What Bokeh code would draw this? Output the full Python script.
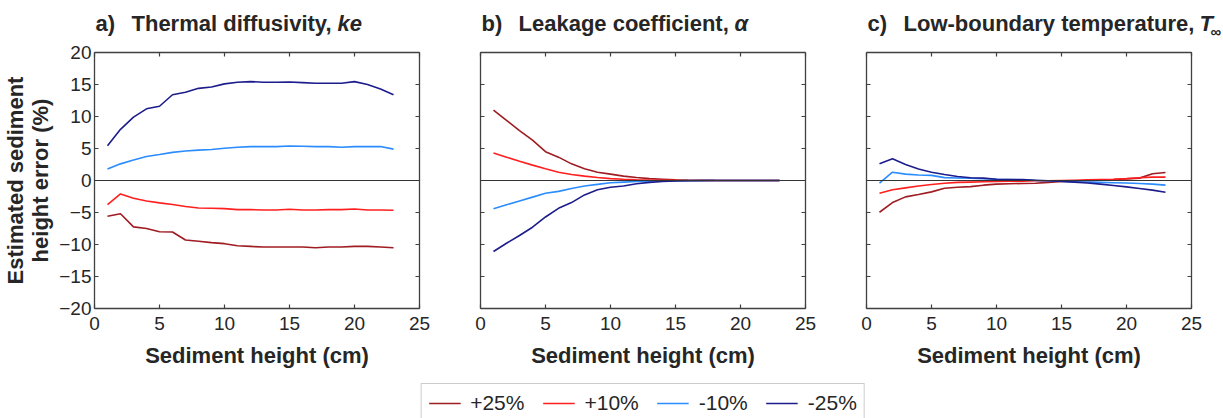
from bokeh.plotting import figure
from bokeh.models import (Range1d, FixedTicker, LinearAxis, Span, Label, Legend,
                          LegendItem, Spacer)
from bokeh.layouts import row, column
from bokeh.embed import file_html
from bokeh.resources import INLINE

# ---------------- data ----------------
heights = list(range(1, 24))
x_ticks = [0, 5, 10, 15, 20, 25]
y_ticks = [-20, -15, -10, -5, 0, 5, 10, 15, 20]
series_labels = ["+25%", "+10%", "-10%", "-25%"]
series_colors = ["#9e1c22", "#ff1f1f", "#2a8cff", "#1c1c8c"]

# a) Thermal diffusivity
a_p25 = [-5.6, -5.2, -7.25, -7.5, -8.0, -8.05, -9.3, -9.5, -9.7, -9.87, -10.2, -10.3,
         -10.4, -10.4, -10.4, -10.4, -10.5, -10.4, -10.4, -10.3, -10.3, -10.4, -10.5]
a_p10 = [-3.76, -2.1, -2.77, -3.2, -3.5, -3.76, -4.07, -4.3, -4.33, -4.4, -4.55, -4.55,
         -4.6, -4.6, -4.5, -4.6, -4.6, -4.55, -4.55, -4.45, -4.6, -4.6, -4.65]
a_m10 = [1.8, 2.6, 3.2, 3.75, 4.07, 4.4, 4.6, 4.75, 4.85, 5.05, 5.2, 5.3,
         5.3, 5.3, 5.38, 5.35, 5.3, 5.3, 5.2, 5.3, 5.3, 5.3, 4.9]
a_m25 = [5.43, 8.0, 9.9, 11.2, 11.6, 13.4, 13.8, 14.4, 14.6, 15.1, 15.35, 15.45,
         15.35, 15.35, 15.4, 15.3, 15.2, 15.2, 15.2, 15.45, 15.0, 14.3, 13.4]

# b) Leakage coefficient
b_p25 = [11.0, 9.4, 7.8, 6.3, 4.5, 3.65, 2.6, 1.83, 1.3, 1.0, 0.68, 0.47,
         0.3, 0.2, 0.1, 0.06, 0.04, 0.02, 0.01, 0.01, 0.0, 0.0, 0.0]
b_p10 = [4.28, 3.65, 3.0, 2.4, 1.83, 1.3, 0.94, 0.68, 0.47, 0.3, 0.2, 0.12,
         0.07, 0.04, 0.02, 0.01, 0.01, 0.0, 0.0, 0.0, 0.0, 0.0, 0.0]
b_m10 = [-4.4, -3.8, -3.2, -2.6, -2.0, -1.7, -1.25, -0.85, -0.6, -0.35, -0.25, -0.15,
         -0.1, -0.05, -0.03, -0.02, -0.01, 0.0, 0.0, 0.0, 0.0, 0.0, 0.0]
b_m25 = [-11.1, -9.8, -8.6, -7.3, -5.7, -4.35, -3.45, -2.25, -1.45, -1.05, -0.85, -0.5,
         -0.3, -0.15, -0.08, -0.04, -0.02, -0.01, 0.0, 0.0, 0.0, 0.0, 0.0]

# c) Low-boundary temperature
c_p25 = [-4.96, -3.45, -2.56, -2.2, -1.78, -1.2, -1.05, -0.95, -0.73, -0.57, -0.5, -0.47,
         -0.42, -0.3, -0.15, -0.1, -0.05, 0.05, 0.15, 0.26, 0.37, 1.05, 1.25]
c_p10 = [-2.0, -1.45, -1.15, -0.85, -0.63, -0.42, -0.3, -0.25, -0.2, -0.15, -0.1, -0.1,
         -0.05, -0.05, 0.0, 0.05, 0.1, 0.15, 0.2, 0.3, 0.42, 0.52, 0.52]
c_m10 = [-0.4, 1.3, 1.0, 0.85, 0.8, 0.45, 0.4, 0.35, 0.27, 0.2, 0.15, 0.1,
         0.0, -0.05, -0.1, -0.2, -0.25, -0.3, -0.35, -0.4, -0.47, -0.57, -0.73]
c_m25 = [2.6, 3.4, 2.5, 1.8, 1.3, 0.95, 0.63, 0.42, 0.37, 0.2, 0.15, 0.15,
         0.05, -0.05, -0.15, -0.26, -0.4, -0.57, -0.78, -1.0, -1.25, -1.5, -1.83]

FONT = "Liberation Sans"
TXT = "#262626"
AX = "#404040"
TITLE_H = 42
LEG_H = 40
PANEL_H = 418 - TITLE_H - LEG_H
TOP_B = 52 - TITLE_H


def make_panel(width, left, right, series, show_ylab):
    p = figure(width=width, height=PANEL_H, output_backend="svg", toolbar_location=None,
               x_range=Range1d(0, 25), y_range=Range1d(-20, 20),
               min_border_left=left, min_border_right=right,
               min_border_top=TOP_B, min_border_bottom=PANEL_H - TOP_B - 256)
    p.outline_line_color = None
    p.xgrid.visible = False
    p.ygrid.visible = False

    p.add_layout(LinearAxis(), "above")
    p.add_layout(LinearAxis(), "right")
    for ax in p.axis:
        ax.axis_line_color = AX
        ax.axis_line_width = 1.3
        ax.major_tick_in = 4
        ax.major_tick_out = 0
        ax.major_tick_line_color = AX
        ax.major_tick_line_width = 1.2
        ax.minor_tick_line_color = None
        ax.major_label_text_font = FONT
        ax.major_label_text_font_size = "19px"
        ax.major_label_text_color = TXT
    for ax in p.xaxis:
        ax.ticker = FixedTicker(ticks=x_ticks)
    for ax in p.yaxis:
        ax.ticker = FixedTicker(ticks=y_ticks)
    # top & right: ticks only
    p.above[0].major_label_overrides = {t: "" for t in x_ticks}
    p.above[0].major_label_standoff = 0
    p.right[0].major_label_overrides = {t: "" for t in y_ticks}
    p.right[0].major_label_standoff = 0

    xb = p.below[0]
    xb.major_label_standoff = 8
    xb.axis_label = "Sediment height (cm)"
    xb.axis_label_text_font = FONT
    xb.axis_label_text_font_style = "bold"
    xb.axis_label_text_font_size = "22px"
    xb.axis_label_text_color = TXT
    xb.axis_label_standoff = 10

    yl = p.left[0]
    if show_ylab:
        yl.major_label_standoff = 3
        yl.axis_label = "Estimated sediment\nheight error (%)"
        yl.axis_label_text_font = FONT
        yl.axis_label_text_font_style = "bold"
        yl.axis_label_text_font_size = "22px"
        yl.axis_label_text_color = TXT
        yl.axis_label_text_line_height = 1.0
        yl.axis_label_standoff = 3
    else:
        yl.major_label_overrides = {t: "" for t in y_ticks}
        yl.major_label_standoff = 0

    p.add_layout(Span(location=0, dimension="width", line_color="#333333", line_width=1.2))
    for ys, col in zip(series, series_colors):
        p.line(heights, ys, line_color=col, line_width=1.6)
    return p


fa = make_panel(449, 94, 30, [a_p25, a_p10, a_m10, a_m25], True)
fb = make_panel(386, 31, 30, [b_p25, b_p10, b_m10, b_m25], False)
fc = make_panel(388, 31, 32, [c_p25, c_p10, c_m10, c_m25], False)

# ---------- title strip (pixel coordinates, y downward) ----------
tf = figure(width=1223, height=TITLE_H, output_backend="svg", toolbar_location=None,
            x_range=Range1d(0, 1223), y_range=Range1d(TITLE_H, 0),
            x_axis_location=None, y_axis_location=None, min_border=0)
tf.outline_line_color = None
tf.xgrid.visible = False
tf.ygrid.visible = False

title_specs = [
    # (text, x, middle y, size, style)
    ("a)", 95, 23.1, "22px", "bold"),
    ("Thermal diffusivity,", 131, 23.1, "22px", "bold"),
    ("ke", 337, 23.1, "22px", "bold italic"),
    ("b)", 481, 23.1, "22px", "bold"),
    ("Leakage coefficient,", 518, 23.1, "22px", "bold"),
    ("\u03b1", 734, 23.1, "22px", "bold italic"),
    ("c)", 867, 23.1, "22px", "bold"),
    ("Low-boundary temperature,", 903, 23.1, "22px", "bold"),
    ("T", 1199, 23.1, "22px", "bold italic"),
    ("\u221e", 1210, 30.5, "15px", "bold"),
]
for txt, tx, ty, sz, st in title_specs:
    tf.add_layout(Label(x=tx, y=ty, text=txt, text_font=FONT, text_font_size=sz,
                        text_font_style=st, text_color=TXT, text_baseline="middle"))

# ---------- legend strip ----------
lf = figure(width=1161, height=LEG_H, output_backend="svg", toolbar_location=None,
            x_range=Range1d(100, 101), y_range=Range1d(100, 101),
            x_axis_location=None, y_axis_location=None, min_border=0)
lf.outline_line_color = None
lf.xgrid.visible = False
lf.ygrid.visible = False
items = []
for lab, col, ys in zip(series_labels, series_colors, [a_p25, a_p10, a_m10, a_m25]):
    r = lf.line(heights, ys, line_color=col, line_width=1.6)
    items.append(LegendItem(label=lab, renderers=[r]))
leg = Legend(items=items, orientation="horizontal", location="top_center",
             border_line_color="#9a9a9a", border_line_width=1.2,
             padding=7, spacing=18, glyph_width=32, glyph_height=20,
             label_standoff=10, margin=5,
             label_text_font=FONT, label_text_font_size="21px",
             label_text_color=TXT, background_fill_color="white")
lf.add_layout(leg)

layout = column(tf, row(fa, fb, fc), row(Spacer(width=62, height=LEG_H), lf))

open("out.html", "w").write(file_html(layout, INLINE))
